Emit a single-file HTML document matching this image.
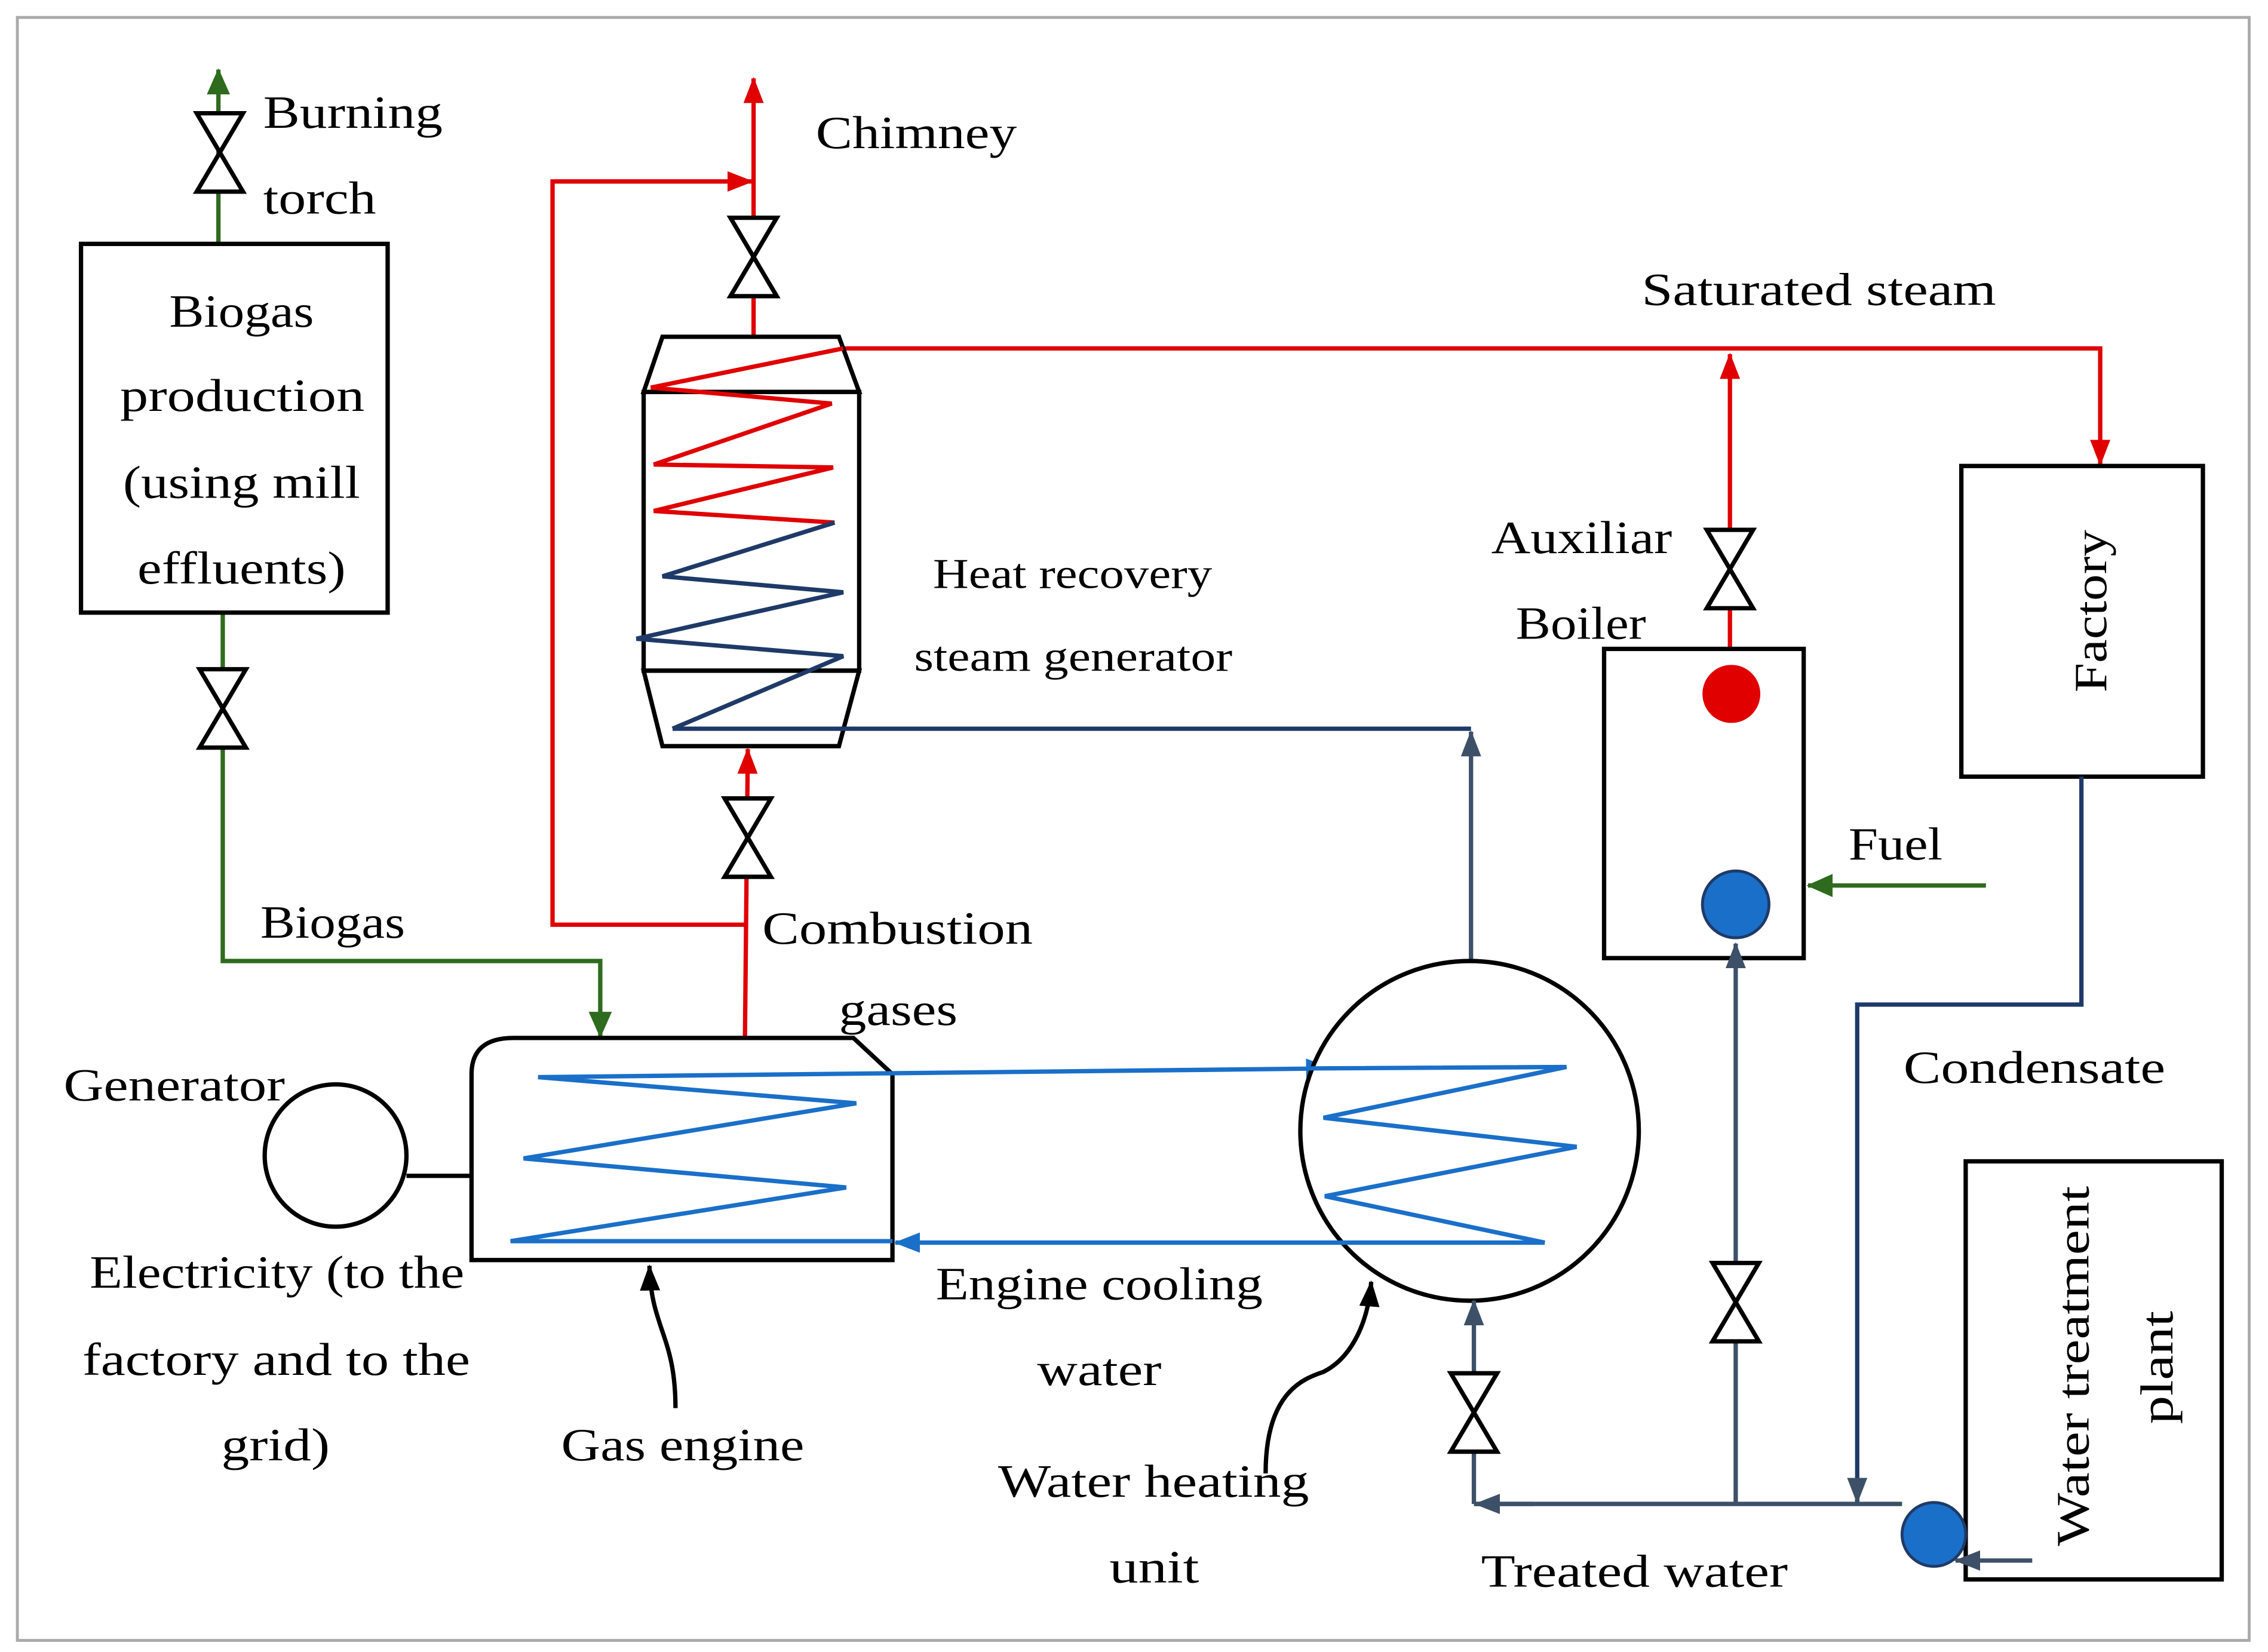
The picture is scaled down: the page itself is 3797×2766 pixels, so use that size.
<!DOCTYPE html>
<html><head><meta charset="utf-8"><style>
html,body{margin:0;padding:0;background:#fff}
svg{display:block}
text{font-family:"Liberation Serif",serif;font-size:32px;fill:#000}
</style></head><body>
<svg width="3797" height="2766" viewBox="0 0 1568 1138" preserveAspectRatio="none" xmlns="http://www.w3.org/2000/svg">
<defs>
<marker id="ag" markerWidth="18" markerHeight="18" refX="17" refY="9" orient="auto" markerUnits="userSpaceOnUse" viewBox="0 0 18 18"><path d="M0,1L18,9L0,17z" fill="#2e6b1e"/></marker>
<marker id="arr" markerWidth="18" markerHeight="18" refX="17" refY="9" orient="auto" markerUnits="userSpaceOnUse" viewBox="0 0 18 18"><path d="M0,2L18,9L0,16z" fill="#e00000"/></marker>
<marker id="an" markerWidth="18" markerHeight="18" refX="17" refY="9" orient="auto" markerUnits="userSpaceOnUse" viewBox="0 0 18 18"><path d="M0,2L18,9L0,16z" fill="#3d5068"/></marker>
<marker id="ab" markerWidth="18" markerHeight="18" refX="17" refY="9" orient="auto" markerUnits="userSpaceOnUse" viewBox="0 0 18 18"><path d="M0,2L18,9L0,16z" fill="#1a6fc9"/></marker>
<marker id="ak" markerWidth="18" markerHeight="18" refX="17" refY="9" orient="auto" markerUnits="userSpaceOnUse" viewBox="0 0 18 18"><path d="M0,2L18,9L0,16z" fill="#000"/></marker>
<g id="v"><path d="M-16,-27L16,-27L0,0z M-16,27L16,27L0,0z" fill="#fff" stroke="#000" stroke-width="3"/></g>
</defs>
<rect x="12" y="12" width="1543" height="1118" fill="#fff" stroke="#aaa" stroke-width="2"/>

<g stroke="#2e6b1e" stroke-width="3" fill="none">
<line x1="151" y1="168" x2="151" y2="48" marker-end="url(#ag)"/>
<polyline points="154,422 154,662 415,662 415,714" marker-end="url(#ag)"/>
<line x1="1373" y1="610" x2="1250" y2="610" marker-end="url(#ag)"/>
</g>
<use href="#v" x="152" y="105"/>
<use href="#v" x="154" y="488"/>
<rect x="56" y="168" width="212" height="254" fill="#fff" stroke="#000" stroke-width="3"/>
<text x="117" y="225" textLength="100" lengthAdjust="spacingAndGlyphs">Biogas</text>
<text x="83" y="283" textLength="169" lengthAdjust="spacingAndGlyphs">production</text>
<text x="85" y="343" textLength="164" lengthAdjust="spacingAndGlyphs">(using mill</text>
<text x="95" y="402" textLength="144" lengthAdjust="spacingAndGlyphs">effluents)</text>
<text x="182" y="88" textLength="124" lengthAdjust="spacingAndGlyphs">Burning</text>
<text x="182" y="147" textLength="78" lengthAdjust="spacingAndGlyphs">torch</text>
<text x="180" y="646" textLength="100" lengthAdjust="spacingAndGlyphs">Biogas</text>

<g stroke="#e00000" stroke-width="3" fill="none">
<line x1="521" y1="232" x2="521" y2="54" marker-end="url(#arr)"/>
<polyline points="516,637 382,637 382,125 520,125" marker-end="url(#arr)"/>
<line x1="515" y1="718" x2="517" y2="516" marker-end="url(#arr)"/>
<polyline points="583,240 1452,240 1452,320" marker-end="url(#arr)"/>
<line x1="1196" y1="460" x2="1196" y2="244" marker-end="url(#arr)"/>
</g>
<use href="#v" x="521" y="177"/>
<use href="#v" x="517" y="577"/>
<use href="#v" x="1196" y="392"/>

<g stroke="#000" stroke-width="3" fill="#fff">
<polygon points="458,232 580,232 594,270 445,270"/>
<rect x="445" y="270" width="149" height="192"/>
<polygon points="445,462 594,462 580,514 458,514"/>
</g>
<polyline points="583,240 450,267 575,278 452,320 576,322 452,352 577,360" fill="none" stroke="#e00000" stroke-width="3"/>
<polyline points="577,360 458,397 583,408 440,440 583,452 465,502" fill="none" stroke="#1f3a68" stroke-width="3"/>
<polyline points="465,502 1017,502" fill="none" stroke="#1f3a68" stroke-width="3"/>
<line x1="1017" y1="662" x2="1017" y2="504" stroke="#3d5068" stroke-width="3" marker-end="url(#an)"/>
<text x="564" y="102" textLength="139" lengthAdjust="spacingAndGlyphs">Chimney</text>
<text x="1135" y="210" textLength="245" lengthAdjust="spacingAndGlyphs">Saturated steam</text>
<text x="645" y="405" style="font-size:29px" textLength="193" lengthAdjust="spacingAndGlyphs">Heat recovery</text>
<text x="632" y="462" style="font-size:29px" textLength="220" lengthAdjust="spacingAndGlyphs">steam generator</text>
<text x="527" y="650" textLength="187" lengthAdjust="spacingAndGlyphs">Combustion</text>
<text x="580" y="706" textLength="82" lengthAdjust="spacingAndGlyphs">gases</text>

<path d="M355,715 L590,715 L617,740 L617,868 L326,868 L326,740 Q326,715 355,715z" fill="#fff" stroke="#000" stroke-width="3"/>
<polyline points="372,742 592,760 362,798 585,818 353,855 617,855" fill="none" stroke="#1a6fc9" stroke-width="3"/>
<line x1="372" y1="742" x2="920" y2="736" stroke="#1a6fc9" stroke-width="3" marker-end="url(#ab)"/>
<circle cx="232" cy="796" r="49" fill="#fff" stroke="#000" stroke-width="3"/>
<line x1="281" y1="810" x2="326" y2="810" stroke="#000" stroke-width="3"/>

<circle cx="1016" cy="779" r="117" fill="#fff" stroke="#000" stroke-width="3"/>
<polyline points="905,736 1083,735 915,770 1090,790 916,824 1068,856" fill="none" stroke="#1a6fc9" stroke-width="3"/>
<line x1="1068" y1="856" x2="619" y2="856" stroke="#1a6fc9" stroke-width="3" marker-end="url(#ab)"/>

<path d="M467,970 C467,920 450,915 449,872" fill="none" stroke="#000" stroke-width="3" marker-end="url(#ak)"/>
<path d="M875,1015 C875,960 900,950 915,945 C935,935 946,910 948,883" fill="none" stroke="#000" stroke-width="3" marker-end="url(#ak)"/>

<text x="44" y="758" textLength="153" lengthAdjust="spacingAndGlyphs">Generator</text>
<text x="62" y="887" textLength="259" lengthAdjust="spacingAndGlyphs">Electricity (to the</text>
<text x="57" y="947" textLength="268" lengthAdjust="spacingAndGlyphs">factory and to the</text>
<text x="153" y="1006" textLength="75" lengthAdjust="spacingAndGlyphs">grid)</text>
<text x="388" y="1006" textLength="168" lengthAdjust="spacingAndGlyphs">Gas engine</text>
<text x="647" y="895" textLength="226" lengthAdjust="spacingAndGlyphs">Engine cooling</text>
<text x="717" y="954" textLength="86" lengthAdjust="spacingAndGlyphs">water</text>
<text x="690" y="1031" textLength="215" lengthAdjust="spacingAndGlyphs">Water heating</text>
<text x="767" y="1090" textLength="62" lengthAdjust="spacingAndGlyphs">unit</text>

<rect x="1109" y="447" width="138" height="213" fill="#fff" stroke="#000" stroke-width="3"/>
<circle cx="1197" cy="478" r="20" fill="#e00000"/>
<circle cx="1200" cy="623" r="23" fill="#1a6fc9" stroke="#1f3a68" stroke-width="2"/>
<text x="1031" y="381" textLength="125" lengthAdjust="spacingAndGlyphs">Auxiliar</text>
<text x="1048" y="440" textLength="90" lengthAdjust="spacingAndGlyphs">Boiler</text>
<text x="1278" y="592" textLength="65" lengthAdjust="spacingAndGlyphs">Fuel</text>

<rect x="1356" y="321" width="167" height="214" fill="#fff" stroke="#000" stroke-width="3"/>
<text transform="translate(1456,477) rotate(-90)" textLength="112" lengthAdjust="spacingAndGlyphs">Factory</text>
<polyline points="1439,535 1439,692 1284,692 1284,1035" fill="none" stroke="#1f3a68" stroke-width="3" marker-end="url(#an)"/>
<text x="1316" y="746" textLength="181" lengthAdjust="spacingAndGlyphs">Condensate</text>

<rect x="1359" y="800" width="177" height="288" fill="#fff" stroke="#000" stroke-width="3"/>
<text transform="translate(1444,1065) rotate(-90)" textLength="248" lengthAdjust="spacingAndGlyphs">Water treatment</text>
<text transform="translate(1502,981) rotate(-90)" textLength="78" lengthAdjust="spacingAndGlyphs">plant</text>

<g stroke="#3d5068" stroke-width="3" fill="none">
<polyline points="1315,1036 1019,1036" />
<line x1="1060" y1="1036" x2="1020" y2="1036" marker-end="url(#an)"/>
<line x1="1019" y1="1036" x2="1019" y2="896" marker-end="url(#an)"/>
<line x1="1200" y1="1036" x2="1200" y2="650" marker-end="url(#an)"/>
<line x1="1405" y1="1075" x2="1352" y2="1075" marker-end="url(#an)"/>
</g>
<use href="#v" x="1019" y="973"/>
<use href="#v" x="1200" y="897"/>
<circle cx="1337" cy="1057" r="22" fill="#1a6fc9" stroke="#1f3a68" stroke-width="2"/>
<text x="1024" y="1093" textLength="212" lengthAdjust="spacingAndGlyphs">Treated water</text>
</svg>
</body></html>
